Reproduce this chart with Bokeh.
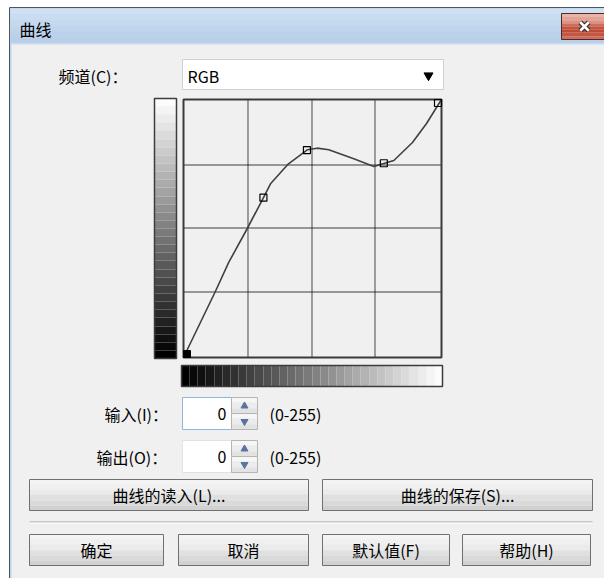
import numpy as np
from bokeh.plotting import figure
from bokeh.models import Range1d
from bokeh.core.properties import value
from bokeh.embed import file_html
from bokeh.resources import INLINE

# ---------------- data ----------------
title = "曲线"
channel_label = "频道(C)："
channel_value = "RGB"
control_in = [0, 79, 122, 198, 255]
control_out = [0, 158, 205, 192, 255]
selected_point = 0
curve_in = [0, 31.6, 44.8, 63.3, 78.8, 86.0, 103.1, 122.3, 132.1, 143.6,
            168.3, 188.1, 198.0, 207.9, 226.3, 240.2, 255]
curve_out = [0, 65.5, 94.2, 128.0, 157.6, 171.7, 190.8, 205.3, 206.9, 205.3,
             196.4, 188.8, 191.7, 194.7, 212.5, 231.3, 255]
grid_in_levels = [64, 127, 189]
grid_out_levels = [65, 128, 190]
value_min, value_max = 0, 255
field_labels = ["输入(I)：", "输出(O)："]
field_values = ["0", "0"]
range_label = "(0-255)"
file_buttons = ["曲线的读入(L)...", "曲线的保存(S)..."]
action_buttons = ["确定", "取消", "默认值(F)", "帮助(H)"]

# ---------------- layout (reference pixel space) ----------------
FONT = "Noto Sans CJK SC"
FX0, FY0, W, H = 0, 0, 604, 578
BOX_L, BOX_T, BOX_R, BOX_B = 183, 99, 441, 357
S = (BOX_R - BOX_L) / (value_max - value_min)

p = figure(width=W, height=H, x_range=Range1d(FX0, FX0 + W),
           y_range=Range1d(FY0 + H, FY0), title=None,
           x_axis_type=None, y_axis_type=None, toolbar_location=None,
           output_backend="svg", min_border=0)
p.outline_line_color = None
p.background_fill_color = "white"
p.border_fill_color = "white"

p.extra_x_ranges = {"cx": Range1d((FX0 - BOX_L) / S, (FX0 + W - BOX_L) / S)}
p.extra_y_ranges = {"cy": Range1d((BOX_B - (FY0 + H)) / S, (BOX_B - FY0) / S)}


def stripes(l, t, r, b, colors, line=None, lw=1, vertical=True):
    n = len(colors)
    if vertical:
        e = np.round(np.linspace(t, b, n + 1))
        p.quad(left=[l] * n, right=[r] * n, top=e[:-1], bottom=e[1:],
               fill_color=colors, line_color=None)
    else:
        e = np.round(np.linspace(l, r, n + 1))
        p.quad(left=e[:-1], right=e[1:], top=[t] * n, bottom=[b] * n,
               fill_color=colors, line_color=None)
    if line:
        p.quad(left=l, right=r, top=t, bottom=b, fill_color=None,
               line_color=line, line_width=lw)


def label(x, y, s, align="left", size="16px", color="#000000"):
    p.text(x=[x], y=[y], text=[s], text_align=align, text_baseline="middle",
           text_font=value(FONT), text_font_size=size, text_color=color)


def hexgray(v):
    v = int(round(v))
    return "#%02x%02x%02x" % (v, v, v)


def snap_in(levels):
    px = np.floor(BOX_L + np.array(levels, float) * S) + 0.5
    return (px - BOX_L) / S


def snap_out(levels):
    py = np.floor(BOX_B - np.array(levels, float) * S) + 0.5
    return (BOX_B - py) / S


# window frame and title bar
p.quad(left=9, right=700, top=7, bottom=700, fill_color="#bcd3ec",
       line_color="#4b5663", line_width=1)
stripes(10, 8, 700, 43, ["#cfe0f2", "#cadcf0", "#c5d9ee", "#c0d5ec",
                         "#bcd2ea", "#b9cfe8"])
p.segment(x0=10, y0=43.5, x1=700, y1=43.5, line_color="#d8e5f3")
p.quad(left=11, right=700, top=44, bottom=700, fill_color="#f0f0f0",
       line_color=None)
label(19, 28, title, size="16px")

# close button
stripes(561, 13, 640, 39, ["#ebb4a7", "#e6a394", "#e09282", "#d26d59",
                           "#c6523c", "#c24a33", "#c8563e", "#d16b55"],
        line="#4a2a2a")
p.scatter(x=[584], y=[26], marker="x", size=12, line_color="#3a2a2a",
          line_width=5)
p.scatter(x=[584], y=[26], marker="x", size=12, line_color="#ffffff",
          line_width=2.6)

# channel selector
label(58, 75, channel_label)
p.quad(left=182, right=443, top=59, bottom=89, fill_color="#ffffff",
       line_color="#cdd1d6")
label(187, 75, channel_value)
p.scatter(x=[428], y=[75], marker="inverted_triangle", size=9,
          fill_color="#000000", line_color="#000000")

# gradient bars
n_steps = 32
stripes(154, 98, 176, 358, [hexgray(v) for v in np.linspace(252, 0, n_steps)],
        line="#3c3c3c", lw=1.5)
stripes(181, 365, 442, 386, [hexgray(v) for v in np.linspace(0, 252, n_steps)],
        line="#3c3c3c", lw=1.5, vertical=False)

# curve box
p.quad(left=BOX_L, right=BOX_R, top=BOX_T, bottom=BOX_B, fill_color="#f0f0f0",
       line_color=None)
gx = snap_in(grid_in_levels)
gy = snap_out(grid_out_levels)
p.segment(x0=gx, y0=[value_min] * len(gx), x1=gx, y1=[value_max] * len(gx),
          x_range_name="cx", y_range_name="cy",
          line_color="#000000", line_dash="1 1", line_width=1.4)
p.segment(x0=[value_min] * len(gy), y0=gy, x1=[value_max] * len(gy), y1=gy,
          x_range_name="cx", y_range_name="cy",
          line_color="#000000", line_dash="1 1", line_width=1.4)
p.line(x=curve_in, y=curve_out, x_range_name="cx", y_range_name="cy",
       line_color="#404040", line_width=1.6, line_join="round")
p.quad(left=BOX_L, right=BOX_R, top=BOX_T, bottom=BOX_B, fill_color=None,
       line_color="#3a3a3a", line_width=2)
half = 3.5 / S
mx = np.clip(np.array(control_in, float), value_min + half, value_max - half)
my = np.clip(np.array(control_out, float), value_min + half, value_max - half)
others = [i for i in range(len(mx)) if i != selected_point]
p.scatter(x=mx[others], y=my[others], marker="square", size=7,
          fill_color=None, line_color="#000000", line_width=1.2,
          x_range_name="cx", y_range_name="cy")
p.scatter(x=[mx[selected_point]], y=[my[selected_point]], marker="square",
          size=7, fill_color="#000000", line_color="#000000",
          x_range_name="cx", y_range_name="cy")

# input / output spin boxes
field_rows = [(397, 429, "#8db6df"), (440, 472, "#dfe3e8")]
label_x = [104, 96]
for (t, b, border), lab, val, lx in zip(field_rows, field_labels,
                                        field_values, label_x):
    mid = (t + b) / 2
    label(lx, mid, lab)
    p.quad(left=182, right=231, top=t, bottom=b, fill_color="#ffffff",
           line_color=border)
    label(226, mid, val, align="right")
    stripes(231, t, 257, round(mid), ["#f6f6f6", "#ececec", "#e2e2e2"],
            line="#b5b5b5")
    stripes(231, round(mid), 257, b, ["#f6f6f6", "#ececec", "#e2e2e2"],
            line="#b5b5b5")
    p.scatter(x=[244], y=[(t + mid) / 2 + 0.5], marker="triangle", size=7,
              fill_color="#5a73a0", line_color="#5a73a0")
    p.scatter(x=[244], y=[(mid + b) / 2], marker="inverted_triangle", size=7,
              fill_color="#5a73a0", line_color="#5a73a0")
    label(269, mid, range_label)

# buttons
btn_colors = ["#f4f4f4", "#f0f0f0", "#ebebeb", "#e0e0e0", "#d9d9d9", "#d1d1d1"]
row1 = [(29, 308), (322, 592)]
for (l, r), s in zip(row1, file_buttons):
    stripes(l, 479, r, 510, btn_colors, line="#707070")
    label((l + r) / 2, 494.5, s, align="center")

p.segment(x0=29, y0=521.5, x1=592, y1=521.5, line_color="#a0a0a0")
p.segment(x0=29, y0=522.5, x1=592, y1=522.5, line_color="#ffffff")

row2 = [(29, 163), (178, 308), (322, 449), (462, 590)]
for (l, r), s in zip(row2, action_buttons):
    stripes(l, 534, r, 565, btn_colors, line="#707070")
    label((l + r) / 2, 549.5, s, align="center")

open("out.html", "w").write(file_html(p, INLINE))
